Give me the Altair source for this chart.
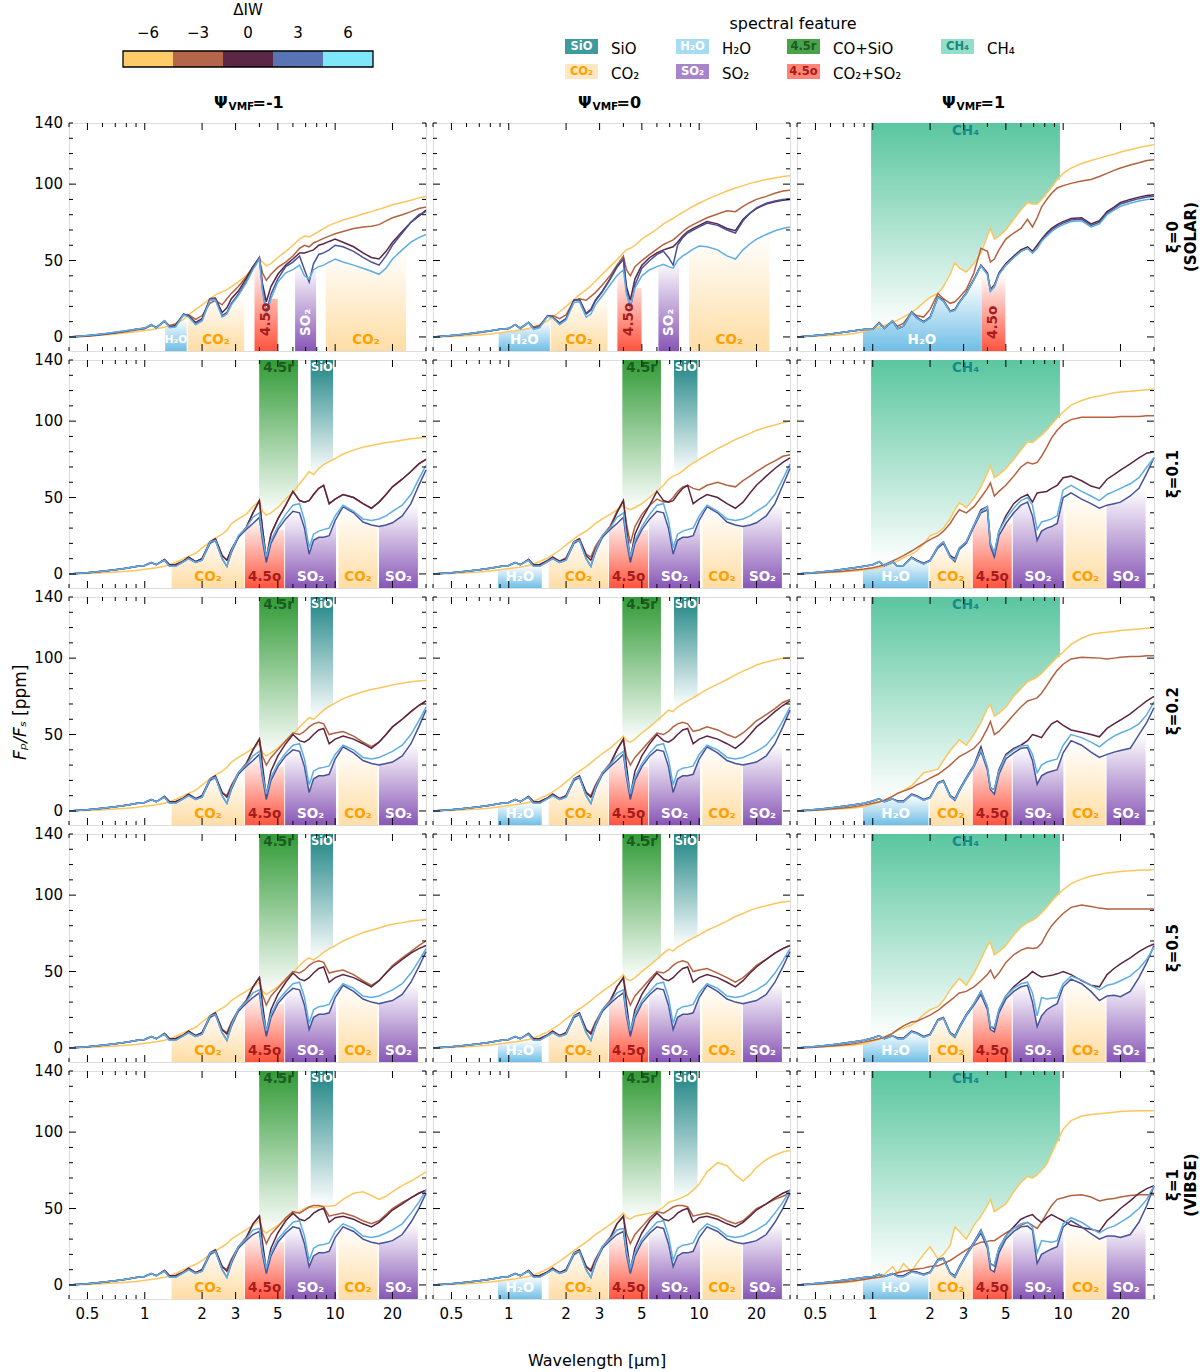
import altair as alt
import pandas as pd

FONT = "DejaVu Sans"
W, H = 357, 228
YMIN, YMAX = -9.2, 140.0
XMIN, XMAX = 0.4, 30.0

# wavelength grid shared by every spectrum (micron)
WL = [0.40, 0.50, 0.60, 0.70, 0.80, 0.90, 1.00, 1.08, 1.15, 1.27,
      1.35, 1.45, 1.60, 1.70, 1.85, 2.00, 2.20, 2.35, 2.55, 2.70,
      2.85, 3.10, 3.40, 3.70, 4.00, 4.15, 4.35, 4.60, 5.00, 5.50,
      6.00, 6.50, 6.90, 7.30, 7.70, 8.20, 8.70, 9.30, 10.0, 11.0,
      12.5, 14.0, 15.5, 17.0, 18.5, 20.0, 22.5, 25.0, 27.5, 30.0]

DIW_LEVELS = [-6, -3, 0, 3, 6]
LINE_COLORS = ["#FCC65C", "#B3623F", "#5B2542", "#47529B", "#5EADE3"]
BAR_COLORS = ["#FDCB68", "#B5664A", "#5B2745", "#5874B4", "#80E6FA"]

PSI_VALUES = ["-1", "0", "1"]
XI_LABELS = [["ξ=0", "(SOLAR)"], ["ξ=0.1"], ["ξ=0.2"], ["ξ=0.5"], ["ξ=1", "(VIBSE)"]]

X_LABELS = [0.5, 1, 2, 3, 5, 10, 20]
X_MINOR = [0.4, 0.6, 0.7, 0.8, 0.9, 4, 6, 7, 8, 9, 30]
Y_LABELS = [0, 50, 100, 140]
Y_MAJOR = [0, 50, 100]
Y_MINOR = [10, 20, 30, 40, 60, 70, 80, 90, 110, 120, 130, 140]

# ---------------- spectra, Fp/Fs in ppm on WL ----------------
# xi = 0 (SOLAR)
R1C1_M6 = [0, 0.4, 1.2, 2.0, 2.7, 3.4, 4.2, 4.7, 5.3, 6.3,
           7.2, 8.5, 11.5, 14.5, 18, 21, 25, 27.5, 29.5, 31,
           33, 36, 40, 45, 51.5, 49, 46.5, 48, 52, 56,
           60, 64, 66, 65.5, 67, 69, 71, 73, 74.5, 76.5,
           78.5, 80.5, 82, 83.5, 85, 86.5, 88, 89.5, 91, 92]
R1C1_M3 = [0, 0.5, 1.5, 2.5, 3.5, 4.5, 5.5, 7.5, 6.5, 10,
           7.5, 8.5, 14, 14.5, 11.5, 14, 22, 24, 21, 25,
           28.5, 33, 39, 46, 50.5, 42, 37, 41, 45.5, 49,
           53, 58, 60, 59, 61.5, 63, 64.5, 66, 67.5, 69,
           71, 72, 72.5, 73.5, 76, 78, 80, 82, 84, 85]
R1C1_Z0 = [0, 0.8, 1.8, 2.8, 3.8, 5, 5.5, 8, 6, 10.5,
           6.5, 7.5, 15, 14, 9.5, 12, 25, 25.5, 16, 19,
           25, 30, 38, 46, 52, 35, 23, 33, 41, 47,
           51, 55, 55, 56, 57, 60, 61, 62.5, 64, 62,
           59, 55, 52, 51, 56, 62, 69, 75, 79, 83]
R1C1_P3 = [0, 1, 2, 3, 4, 5, 5.8, 8, 6, 10.5,
           6.5, 7, 15, 13.5, 8.5, 11, 25, 25, 14, 16,
           22, 28, 36, 45, 52, 32, 16, 28, 38, 46,
           49, 53, 44, 36, 48, 54, 55, 57, 60, 59,
           56, 52, 49, 47, 53, 60, 68, 75, 80, 82]
R1C1_P6 = [0, 1, 2, 3, 4, 5, 5.8, 8, 6, 10.5,
           6, 6.5, 14.5, 13, 8, 10.5, 24, 24, 13, 15,
           21, 27, 35, 44, 51, 30, 15, 25, 36, 42,
           44, 47, 40, 38, 44, 46, 47, 49, 51, 49,
           47, 45, 43, 41, 45, 51, 57, 62, 65, 67]

R1C2_M6 = [0, 0.3, 0.8, 1.3, 2, 2.8, 3.5, 4, 4.5, 5.5,
           6.5, 8, 10.5, 13, 16.5, 20, 24.5, 27.5, 31, 33.5,
           36.5, 41, 46, 50.5, 55, 57, 58, 60, 64, 67.5,
           70.5, 74, 76, 77.5, 79.5, 81.5, 83.5, 85.5, 87.5, 90,
           93, 95.5, 97.5, 99, 100.5, 101.5, 103, 104, 105, 105.5]
R1C2_M3 = [0, 0.8, 1.8, 2.8, 3.8, 5, 5.5, 8, 6, 9.5,
           6.5, 7.5, 13.5, 14, 12, 14.5, 24, 25, 24, 26.5,
           29, 34, 40, 47, 53, 44, 40, 46, 50, 54,
           57.5, 60.5, 62, 63.5, 66, 69, 71.5, 73.5, 75.5, 78,
           80.5, 82.5, 82, 85.5, 88, 90, 92, 94, 95.5, 96]
R1C2_Z0 = [0, 1, 2, 3, 4, 5, 5.5, 8, 5.5, 9.5,
           5.5, 6.5, 14, 13, 9, 12, 24, 24.5, 15.5, 18,
           24, 30, 38, 46, 51, 33, 24, 38, 47, 52,
           55, 57, 58, 59, 62, 66, 69, 71, 73, 75.5,
           74, 71, 69.5, 77, 81, 84, 87, 88.5, 89.5, 90]
R1C2_P3 = [0, 1, 2, 3, 4, 5, 5.5, 8, 5.5, 9.5,
           5.5, 6.5, 14, 13, 9, 12, 24, 24.5, 15, 17.5,
           23.5, 29.5, 37.5, 45.5, 51, 30, 19, 34, 45, 50,
           54, 56, 52, 47, 60, 65, 68, 70, 72, 74.5,
           73, 70, 68, 76, 81, 84.5, 87.5, 89, 90, 90.5]
R1C2_P6 = [0, 1, 2, 3, 4, 5, 5.5, 8, 5.5, 9.5,
           5, 6, 13.5, 12.5, 8, 11, 22.5, 23, 13, 15,
           21, 27, 34, 40, 44, 28, 20, 32, 40, 44,
           46, 47.5, 46, 45, 50, 53, 55, 57.5, 59.5, 59,
           57, 53, 51, 57, 61, 64, 67, 69.5, 71, 72]

R1C3_M6 = [0, 0.5, 1, 1.5, 2.2, 3.5, 5, 6.5, 7.5, 9.5,
           11, 13, 16, 18.5, 22.5, 26, 28.5, 33, 41, 48.5,
           45, 42.5, 48, 55, 66, 71, 64, 66, 70, 77,
           83, 88, 87, 87, 90, 94, 98, 103, 107, 110.5,
           113.5, 115.5, 117, 118.5, 119.5, 121, 122.5, 124, 125, 126]
R1C3_M3 = [0, 1, 2, 3, 4, 5, 5, 9.5, 6, 10,
           7, 9, 16, 14, 13, 18, 28.5, 25, 22, 23,
           26, 31, 42, 58, 56, 49, 51, 57, 64, 68,
           71, 77, 72, 78, 85, 90, 94, 97.5, 99, 100.5,
           102, 103, 105, 107, 109, 110.5, 112.5, 114, 115.5, 116]
R1C3_Z0 = [0, 1, 2, 3, 4, 4.8, 5, 9, 5.5, 10.5,
           5.5, 7, 16.5, 13, 10, 13, 26.5, 24, 17, 18,
           23, 29, 38, 47, 42, 31, 34, 42, 48, 53,
           57, 59, 56, 60, 64, 68, 71, 73.5, 75.5, 77.5,
           78, 74, 76, 82, 85, 88, 90, 91.5, 92.5, 93]
R1C3_P3 = [0, 1, 2, 3, 4, 4.8, 5, 9, 5.5, 10.5,
           5.5, 7, 16, 12.5, 9.5, 12.5, 26, 23.5, 16.5, 17.5,
           22.5, 28.5, 37.5, 46.5, 41, 30, 33, 41, 47, 52,
           56, 58, 55, 58, 63, 67, 70, 72.5, 74.5, 76.5,
           77, 73, 75, 81, 84, 87, 89, 90.5, 91.5, 92]
R1C3_P6 = [0, 1, 2, 3, 4, 4.8, 5, 9, 5.5, 10.5,
           5.5, 7, 16, 12.5, 9.5, 12.5, 26, 23.5, 16.5, 17.5,
           22.5, 28.5, 37.5, 46.5, 41, 30, 33, 41, 47, 52,
           56, 58, 55, 58, 62.5, 66, 69, 71.5, 73.5, 75.5,
           76, 72, 74, 80, 83, 85.5, 87.5, 89, 90, 90.5]

# xi = 0.1
R2C1_M6 = [0, 0.3, 0.7, 1.2, 1.7, 2.3, 3, 3.5, 4, 5,
           6, 7.5, 10, 11.5, 13.5, 17, 21, 23.5, 26, 28.5,
           33, 36, 39, 44, 48, 41, 38.5, 40, 43.5, 49,
           53.5, 59, 63, 67, 65, 69, 71.5, 73.5, 75.5, 78.5,
           81, 83, 84, 85, 86, 86.5, 87.5, 88.5, 89, 89.5]
R2C1_M3 = [0, 0.8, 1.8, 2.8, 3.8, 4.8, 5.5, 7.5, 6, 9.5,
           6, 6, 8.5, 11, 8, 10, 21, 23, 12, 9,
           16, 24, 30, 40, 48, 30, 10, 26, 36, 45,
           54, 48, 47, 48, 52, 56, 58, 46, 49, 52,
           50, 46, 43, 47, 52, 57, 62, 67, 72, 75]
R2C1_Z0 = [0, 0.8, 1.8, 2.8, 3.8, 4.8, 5.5, 7.5, 6, 9.5,
           6, 6, 8.5, 11, 8, 10, 21, 23, 12, 9,
           16, 24, 30, 40, 48, 30, 10, 26, 36, 45,
           54, 48, 47, 48, 52, 56, 58, 46, 49, 52,
           50, 46, 43, 47, 52, 57, 62, 67, 72, 75]
R2C1_P3 = [0, 0.8, 1.8, 2.8, 3.8, 4.8, 5.5, 7.5, 6, 9,
           5, 5, 8, 10, 7.5, 9, 20, 22, 10, 5,
           14, 24, 29, 33, 37, 22, 7.5, 20, 29, 36,
           41, 40, 30, 13, 22, 24, 24, 25, 35, 44,
           40, 34, 32, 31, 32, 33.5, 38, 46, 58, 68]
R2C1_P6 = [0, 0.8, 1.8, 2.8, 3.8, 4.8, 5.5, 7.5, 6, 9,
           5, 5, 8, 10, 7.5, 9, 21, 22, 10, 5,
           15, 25, 30, 37, 40, 25, 11, 22, 31, 39,
           45, 46, 35, 17, 26, 28, 29, 30, 38, 45,
           41, 36, 35, 36, 38, 41, 45, 52, 62, 71]

R2C2_M6 = [0, 0.3, 0.8, 1.3, 2, 2.8, 3.5, 4, 4.5, 5.5,
           6.5, 8, 10.5, 12.5, 15.5, 19, 23, 25.5, 28, 30.5,
           33, 36, 39, 42, 45, 43, 42, 43.5, 46, 50,
           54, 58, 62, 64, 65, 67.5, 70, 72.5, 75, 78,
           82, 85, 88, 90, 92, 94, 96, 97.5, 99, 100]
R2C2_M3 = [0, 0.8, 1.8, 2.8, 3.8, 4.8, 5.5, 7.5, 6, 9.5,
           6, 6, 9, 11, 8.5, 10.5, 21, 23, 13, 11,
           18, 25, 31, 41, 48, 33, 20, 31, 39, 45,
           49, 47, 47, 50, 54, 57, 58, 56, 55, 58,
           60, 58, 57, 61, 64, 67, 71, 74, 77, 78]
R2C2_Z0 = [0, 0.8, 1.8, 2.8, 3.8, 4.8, 5.5, 7.5, 6, 9.5,
           6, 6, 8.5, 11, 8, 10, 21, 23, 12, 9,
           16, 24, 30, 40, 48, 30, 10, 26, 36, 45,
           54, 48, 47, 48, 52, 56, 58, 46, 49, 52,
           50, 46, 43, 47, 53, 58, 64, 69, 73, 76]
R2C2_P3 = [0, 0.8, 1.8, 2.8, 3.8, 4.8, 5.5, 7.5, 6, 9,
           5, 5, 8, 10, 7.5, 9, 20, 22, 10, 5,
           14, 24, 29, 33, 37, 22, 7.5, 20, 29, 36,
           41, 40, 30, 13, 22, 24, 24, 25, 35, 44,
           40, 34, 32, 31, 32, 33.5, 38, 46, 58, 69]
R2C2_P6 = [0, 0.8, 1.8, 2.8, 3.8, 4.8, 5.5, 7.5, 6, 9,
           5, 5, 8, 10, 7.5, 9, 21, 22, 10, 5,
           15, 25, 30, 37, 40, 25, 11, 22, 31, 39,
           45, 46, 35, 17, 26, 28, 29, 30, 38, 45,
           41, 36, 35, 36, 38, 41, 45, 52, 62, 72]

R2C3_M6 = [0, 0.5, 1, 1.5, 2, 2.5, 3.5, 4, 5, 7,
           8.5, 10.5, 13, 15, 19.5, 25, 27, 30, 36, 42,
           46.5, 43.5, 49.5, 57, 66, 70.5, 63, 65, 69, 75,
           81, 86.5, 86, 88.5, 91, 94, 98, 102, 106, 110.5,
           113.5, 115.5, 116.5, 117.5, 118.5, 119, 119.5, 120, 120.5, 121]
R2C3_M3 = [0, 0.6, 1.2, 1.8, 2.5, 3.2, 4, 5, 6, 8.5,
           10, 12, 15, 17, 20, 22.5, 25, 28, 33, 38,
           42, 40, 44, 50, 56, 59.5, 51, 54, 58, 64,
           70, 73, 72, 73, 77, 83, 89, 94, 98, 101,
           102.5, 102.5, 102.5, 102.5, 102.5, 103, 103, 103, 103.5, 103.5]
R2C3_Z0 = [0, 1, 2, 3, 4, 5, 6, 8, 5.5, 8,
           5, 5.5, 11, 9, 7, 9, 18, 21, 12, 10,
           17, 21, 32, 42, 44, 20, 13, 28, 38, 46,
           50, 52, 47, 53, 53.5, 54, 56, 58, 63, 64,
           61, 57.5, 56, 62, 65, 68, 72, 76, 79, 80]
R2C3_P3 = [0, 1, 2, 3, 4, 5, 6, 8, 5.5, 8,
           5, 5.5, 10.5, 8.5, 6.5, 8.5, 17, 20, 11, 8,
           16, 20, 31, 40, 42, 18, 11, 25, 33, 40,
           45, 47, 38, 22, 28, 30, 31, 33, 50, 53,
           49, 46, 43, 45, 46, 47, 51, 56, 66, 76]
R2C3_P6 = [0, 1, 2, 3, 4, 5, 6, 8, 5.5, 8,
           5, 5.5, 10.5, 8.5, 6.5, 8.5, 18, 21, 11, 9,
           17, 21, 32, 41, 44, 20, 14, 28, 36, 43,
           48, 50, 45, 29, 34, 35, 36, 38, 55, 58,
           54, 51, 48, 52, 54, 56, 59, 63, 70, 76]

# xi = 0.2
R3C1_M6 = [0, 0.3, 0.7, 1.2, 1.7, 2.3, 3, 3.5, 4, 5,
           6, 7.5, 10, 11.5, 13.5, 17, 21, 23.5, 26, 28.5,
           32, 35, 38, 41, 44, 38, 36, 38, 41, 46,
           50, 55, 58, 61, 60, 63, 66, 68.5, 70.5, 73.5,
           76, 78, 79.5, 80.5, 81.5, 82.5, 83.5, 84.5, 85, 85.5]
R3C1_M3 = [0, 0.8, 1.8, 2.8, 3.8, 4.8, 5.5, 7.5, 6, 9.5,
           6, 6, 8.5, 11, 8, 10, 20, 22, 12, 10,
           17, 25, 31, 40, 47, 36, 30, 35, 40, 46,
           51, 50, 52, 55, 57, 58, 57, 50, 51, 52,
           49, 45, 42, 45, 50, 55, 60, 65, 69, 72]
R3C1_Z0 = [0, 0.8, 1.8, 2.8, 3.8, 4.8, 5.5, 7.5, 6, 9.5,
           6, 6, 8.5, 11, 8, 10, 21, 23, 12, 9,
           16, 24, 30, 40, 47, 30, 10, 26, 36, 44,
           50, 46, 45, 47, 50, 53, 54, 44, 47, 49,
           47, 44, 41, 45, 50, 55, 60, 65, 69, 72]
R3C1_P3 = [0, 0.8, 1.8, 2.8, 3.8, 4.8, 5.5, 7.5, 6, 9,
           5, 5, 8, 10, 7.5, 9, 20, 22, 10, 5,
           14, 24, 29, 33, 37, 22, 7.5, 20, 29, 36,
           40, 39, 29, 12, 21, 23, 23, 24, 34, 42,
           38, 33, 31, 30, 31, 32, 36, 44, 55, 66]
R3C1_P6 = [0, 0.8, 1.8, 2.8, 3.8, 4.8, 5.5, 7.5, 6, 9,
           5, 5, 8, 10, 7.5, 9, 21, 22, 10, 5,
           15, 25, 30, 36, 39, 24, 11, 22, 31, 38,
           43, 44, 34, 17, 26, 28, 28.5, 29.5, 37, 43,
           40, 35, 34, 35, 37, 39, 43, 50, 59, 68]

R3C2_M6 = [0, 0.3, 0.8, 1.3, 2, 2.8, 3.5, 4, 4.5, 5.5,
           6.5, 8, 10.5, 12.5, 15.5, 19, 23.5, 26, 29, 31.5,
           34, 37.5, 41, 45, 49, 46, 45, 47, 51, 55,
           59, 63, 66, 65, 68, 70, 72, 74, 76.5, 79.5,
           83, 86, 89, 91.5, 93.5, 95.5, 97.5, 99, 100, 100.5]
R3C2_M3 = [0, 0.8, 1.8, 2.8, 3.8, 4.8, 5.5, 7.5, 6, 9.5,
           6, 6, 8.5, 11, 8, 10, 20, 22, 12, 10,
           17, 25, 31, 40, 47, 36, 30, 35, 40, 46,
           51, 50, 52, 55, 57, 58, 57, 52, 53, 55,
           53, 50, 48, 51, 55, 59, 63, 67, 71, 73]
R3C2_Z0 = [0, 0.8, 1.8, 2.8, 3.8, 4.8, 5.5, 7.5, 6, 9.5,
           6, 6, 8.5, 11, 8, 10, 21, 23, 12, 9,
           16, 24, 30, 40, 47, 30, 10, 26, 36, 44,
           50, 46, 45, 47, 50, 53, 54, 44, 47, 49,
           47, 44, 41, 45, 50, 55, 60, 65, 69, 72]
R3C2_P3 = [0, 0.8, 1.8, 2.8, 3.8, 4.8, 5.5, 7.5, 6, 9,
           5, 5, 8, 10, 7.5, 9, 20, 22, 10, 5,
           14, 24, 29, 33, 37, 22, 7.5, 20, 29, 36,
           40, 39, 29, 12, 21, 23, 23, 24, 34, 42,
           38, 33, 31, 30, 31, 32, 36, 44, 55, 66]
R3C2_P6 = [0, 0.8, 1.8, 2.8, 3.8, 4.8, 5.5, 7.5, 6, 9,
           5, 5, 8, 10, 7.5, 9, 21, 22, 10, 5,
           15, 25, 30, 36, 39, 24, 11, 22, 31, 38,
           43, 44, 34, 17, 26, 28, 28.5, 29.5, 37, 43,
           40, 35, 34, 35, 37, 39, 43, 50, 59, 68]

R3C3_M6 = [0, 0.5, 1, 1.5, 2, 2.8, 4.5, 5.5, 7, 9.5,
           11.5, 13.5, 16.5, 20, 25, 26, 27.5, 33, 39.5, 43,
           46.5, 43, 50, 58, 67, 69.5, 62, 64, 68, 75,
           80, 84.5, 86, 87.5, 90, 93.5, 97, 100.5, 104, 109,
           113, 115.5, 116.5, 117, 117.5, 118, 118.5, 119, 119.5, 120]
R3C3_M3 = [0, 0.5, 1.2, 2, 2.8, 3.8, 5, 6, 7, 9.5,
           11.5, 13, 15, 17, 19, 21.5, 24, 26.5, 30, 33,
           35.5, 38, 41, 46, 54, 58.5, 50, 52, 57, 63,
           68, 72, 73, 74, 77, 82, 87, 92, 96, 99.5,
           100.5, 100.3, 100, 99.5, 100, 100.5, 101, 101, 101.5, 101.5]
R3C3_Z0 = [0, 1, 2, 3, 4, 5, 6.5, 8, 6, 8,
           6.5, 6.5, 11, 10, 7.5, 9, 18.5, 20, 10, 8,
           14, 22, 30, 42, 28, 15, 14, 27, 37, 41,
           43, 46, 50, 49, 48, 53, 57, 59, 56, 53,
           51.5, 50, 48.5, 54, 57, 59.5, 63.5, 68, 72, 75]
R3C3_P3 = [0, 1, 2, 3, 4, 5, 6.5, 8, 6, 8,
           6, 6, 10.5, 9.5, 7, 8.5, 18, 19.5, 9.5, 7,
           13, 21, 29, 39, 27, 14, 11, 24, 34, 38,
           41, 41.5, 33, 17.5, 23, 25, 26, 27, 38, 46,
           43, 38.5, 35, 37, 38.5, 39.5, 41, 50, 58, 67.5]
R3C3_P6 = [0, 1, 2, 3, 4, 5, 6.5, 8, 6, 8,
           6, 6, 10.5, 9.5, 7, 8.5, 18, 19.5, 9.5, 7.5,
           13.5, 21.5, 29.5, 40, 29, 15, 14, 26, 36, 40,
           42.5, 43, 37, 25, 30, 32, 33, 34, 43, 50,
           48, 45, 42, 46, 49, 51, 53.5, 57, 63, 71.5]

# xi = 0.5
R4C1_M6 = [0, 0.3, 0.7, 1.2, 1.7, 2.3, 3, 3.5, 4, 5,
           6, 7.5, 10, 11.5, 13.5, 17, 21, 23.5, 26, 28,
           31, 34, 37, 40, 43, 37, 35, 37, 40, 45,
           49, 54, 57, 59, 57.5, 60, 62.5, 65, 67, 70,
           73, 75.5, 77, 78.5, 80, 81, 82, 83, 83.5, 84]
R4C1_M3 = [0, 0.8, 1.8, 2.8, 3.8, 4.8, 5.5, 7.5, 6, 9.5,
           6, 6, 8.5, 11, 8, 10, 20, 22, 12, 10,
           17, 25, 31, 40, 46, 35, 28, 34, 39, 45,
           50, 49, 51, 54, 56, 57, 56, 49, 50, 51,
           48, 44, 41, 44, 49, 54, 59, 63, 67, 70]
R4C1_Z0 = [0, 0.8, 1.8, 2.8, 3.8, 4.8, 5.5, 7.5, 6, 9.5,
           6, 6, 8.5, 11, 8, 10, 21, 23, 12, 9,
           16, 24, 30, 40, 46, 29, 10, 25, 35, 43,
           49, 45, 44, 46, 49, 52, 53, 43, 46, 48,
           46, 43, 40, 44, 49, 53, 58, 62, 65, 67]
R4C1_P3 = [0, 0.8, 1.8, 2.8, 3.8, 4.8, 5.5, 7.5, 6, 9,
           5, 5, 8, 10, 7.5, 9, 20, 22, 10, 5,
           14, 24, 29, 33, 36, 21, 7.5, 20, 29, 35,
           39, 38, 28, 12, 20, 22, 22, 23, 33, 41,
           37, 32, 30, 29, 30, 31, 35, 43, 53, 63]
R4C1_P6 = [0, 0.8, 1.8, 2.8, 3.8, 4.8, 5.5, 7.5, 6, 9,
           5, 5, 8, 10, 7.5, 9, 21, 22, 10, 5,
           15, 25, 30, 36, 38, 23, 11, 22, 31, 37,
           42, 43, 33, 16, 25, 27, 27.5, 28.5, 36, 42,
           39, 34, 33, 34, 36, 38, 42, 49, 57, 65]

R4C2_M6 = [0, 0.3, 0.8, 1.3, 2, 2.8, 3.5, 4, 4.5, 5.5,
           6.5, 8, 10.5, 12.5, 15.5, 19, 23, 25.5, 28.5, 31,
           33.5, 37, 40.5, 44, 48, 45, 44, 46, 50, 54,
           58, 62, 64.5, 63.5, 66, 68, 70, 72, 74, 77,
           80, 83, 86, 88, 90, 91.5, 93, 94.5, 95.5, 96]
R4C2_M3 = [0, 0.8, 1.8, 2.8, 3.8, 4.8, 5.5, 7.5, 6, 9.5,
           6, 6, 8.5, 11, 8, 10, 20, 22, 12, 10,
           17, 25, 31, 40, 46, 35, 28, 34, 39, 45,
           50, 49, 51, 54, 56, 57, 56, 50, 51, 52,
           49, 46, 43, 46, 50, 54, 58, 62, 65, 67]
R4C2_Z0 = [0, 0.8, 1.8, 2.8, 3.8, 4.8, 5.5, 7.5, 6, 9.5,
           6, 6, 8.5, 11, 8, 10, 21, 23, 12, 9,
           16, 24, 30, 40, 46, 29, 10, 25, 35, 43,
           49, 45, 44, 46, 49, 52, 53, 43, 46, 48,
           46, 43, 40, 44, 49, 53, 58, 62, 65, 67]
R4C2_P3 = [0, 0.8, 1.8, 2.8, 3.8, 4.8, 5.5, 7.5, 6, 9,
           5, 5, 8, 10, 7.5, 9, 20, 22, 10, 5,
           14, 24, 29, 33, 36, 21, 7.5, 20, 29, 35,
           39, 38, 28, 12, 20, 22, 22, 23, 33, 41,
           37, 32, 30, 29, 30, 31, 35, 43, 53, 63]
R4C2_P6 = [0, 0.8, 1.8, 2.8, 3.8, 4.8, 5.5, 7.5, 6, 9,
           5, 5, 8, 10, 7.5, 9, 21, 22, 10, 5,
           15, 25, 30, 36, 38, 23, 11, 22, 31, 37,
           42, 43, 33, 16, 25, 27, 27.5, 28.5, 36, 42,
           39, 34, 33, 34, 36, 38, 42, 49, 57, 65]

R4C3_M6 = [0, 0.5, 1, 1.5, 2, 2.8, 4.5, 5.5, 7, 9.5,
           11.5, 13, 15, 17.5, 22, 25, 27, 31, 38, 42,
           45.5, 41, 49, 58, 67, 69, 61, 63, 67, 74,
           79, 82, 83.5, 85.5, 88.5, 92, 96, 100, 103.5, 107.5,
           110.5, 112.5, 113.5, 114.5, 115, 115.5, 116, 116.3, 116.5, 116.7]
R4C3_M3 = [0, 0.5, 1.2, 2, 2.8, 3.8, 5, 6, 7, 9.5,
           12, 14.5, 17, 17.5, 19.5, 21.5, 24.5, 27.5, 31, 33.5,
           36, 37, 40, 44, 48, 51, 45.5, 49, 56, 61,
           64, 65.5, 65, 65.5, 68.5, 75, 80, 84, 88, 92,
           93.5, 92.5, 91.5, 91, 91, 91, 91, 91, 91, 91]
R4C3_Z0 = [0, 1, 2, 3, 4, 5, 6.5, 8, 6, 8,
           6.5, 6.5, 11, 10, 7.5, 9, 18.5, 20, 10, 8,
           14, 22, 29, 37, 27, 14, 12.5, 25, 34, 40,
           44, 47, 50, 48, 46.5, 47, 47.5, 48.5, 50, 48,
           44, 41, 40, 48, 52, 55, 59, 63, 66, 68]
R4C3_P3 = [0, 1, 2, 3, 4, 5, 6.5, 8, 6, 8,
           6, 6, 10.5, 9.5, 7, 8.5, 18, 19.5, 9.5, 7,
           13, 21, 28, 35, 25, 12, 10.5, 23, 32, 37,
           40, 41, 30, 14, 21, 25, 27, 29, 40, 45,
           42, 37, 31, 34, 34.5, 33.5, 37, 46, 56, 67]
R4C3_P6 = [0, 1, 2, 3, 4, 5, 6.5, 8, 6, 8,
           6, 6, 10.5, 9.5, 7, 8.5, 18, 19.5, 9.5, 7.5,
           13.5, 21.5, 29, 37, 27, 14, 13.5, 25, 34, 39,
           42, 43, 36, 21, 33, 32, 32.5, 33, 42, 47,
           44.5, 41, 38, 41, 42, 44, 47, 52, 58, 66]

# xi = 1 (VIBSE)
R5C1_M6 = [0, 0.3, 0.7, 1.2, 1.7, 2.3, 3, 3.5, 4, 5,
           6, 7.5, 10, 11.5, 13.5, 16, 20, 22.5, 25, 27,
           30, 33, 36, 39, 42, 36, 34, 36, 39, 43,
           46, 48, 50, 51, 50.5, 51, 51.5, 51.5, 52, 56,
           60, 61, 58.5, 56, 58, 61, 65, 68, 71, 74]
R5C1_M3 = [0, 0.8, 1.8, 2.8, 3.8, 4.8, 5.5, 7.5, 6, 9.5,
           6, 6, 8.5, 11, 8, 10, 20, 22, 12, 10,
           17, 25, 31, 40, 45, 34, 27, 33, 38, 44,
           48, 47, 49, 51, 52, 52, 51, 45, 46, 47,
           45, 42, 40, 42, 46, 50, 54, 57, 60, 62]
R5C1_Z0 = [0, 0.8, 1.8, 2.8, 3.8, 4.8, 5.5, 7.5, 6, 9.5,
           6, 6, 8.5, 11, 8, 10, 21, 23, 12, 9,
           16, 24, 30, 40, 45, 28, 10, 24, 34, 42,
           47, 43, 42, 44, 47, 49, 50, 41, 44, 45,
           43, 40, 38, 41, 45, 49, 53, 57, 60, 62]
R5C1_P3 = [0, 0.8, 1.8, 2.8, 3.8, 4.8, 5.5, 7.5, 6, 9,
           5, 5, 8, 10, 7.5, 9, 20, 22, 10, 5,
           14, 24, 29, 33, 35, 20, 7.5, 19, 28, 34,
           38, 37, 27, 12, 19, 21, 21, 22, 31, 38,
           35, 30, 28, 27, 28, 29, 33, 41, 50, 60]
R5C1_P6 = [0, 0.8, 1.8, 2.8, 3.8, 4.8, 5.5, 7.5, 6, 9,
           5, 5, 8, 10, 7.5, 9, 21, 22, 10, 5,
           15, 25, 30, 36, 37, 22, 11, 21, 30, 36,
           41, 42, 32, 16, 24, 26, 26.5, 27.5, 35, 40,
           37, 32, 31, 32, 34, 36, 40, 47, 54, 62]

R5C2_M6 = [0, 0.3, 0.8, 1.3, 2, 2.8, 3.5, 4, 4.5, 5.5,
           6.5, 8, 10.5, 12.5, 15.5, 18.5, 22.5, 25, 28, 30.5,
           33, 36, 39.5, 43, 47, 44, 43, 45, 46, 47,
           48, 51, 54, 55, 56, 57.5, 59, 62, 66, 74,
           80, 78, 72, 68, 72, 77, 82, 85, 87, 88]
R5C2_M3 = [0, 0.8, 1.8, 2.8, 3.8, 4.8, 5.5, 7.5, 6, 9.5,
           6, 6, 8.5, 11, 8, 10, 20, 22, 12, 10,
           17, 25, 31, 40, 45, 34, 27, 33, 38, 44,
           48, 47, 49, 51, 52, 52, 51, 45, 46, 47,
           45, 42, 40, 42, 46, 50, 53, 56, 58, 60]
R5C2_Z0 = [0, 0.8, 1.8, 2.8, 3.8, 4.8, 5.5, 7.5, 6, 9.5,
           6, 6, 8.5, 11, 8, 10, 21, 23, 12, 9,
           16, 24, 30, 40, 45, 28, 10, 24, 34, 42,
           47, 43, 42, 44, 47, 49, 50, 41, 44, 45,
           43, 40, 38, 41, 45, 49, 53, 57, 60, 62]
R5C2_P3 = [0, 0.8, 1.8, 2.8, 3.8, 4.8, 5.5, 7.5, 6, 9,
           5, 5, 8, 10, 7.5, 9, 20, 22, 10, 5,
           14, 24, 29, 33, 35, 20, 7.5, 19, 28, 34,
           38, 37, 27, 12, 19, 21, 21, 22, 31, 38,
           35, 30, 28, 27, 28, 29, 33, 41, 50, 60]
R5C2_P6 = [0, 0.8, 1.8, 2.8, 3.8, 4.8, 5.5, 7.5, 6, 9,
           5, 5, 8, 10, 7.5, 9, 21, 22, 10, 5,
           15, 25, 30, 36, 37, 22, 11, 21, 30, 36,
           41, 42, 32, 16, 24, 26, 26.5, 27.5, 35, 40,
           37, 32, 31, 32, 34, 36, 40, 47, 54, 62]

R5C3_M6 = [0, 0.5, 1, 1.5, 2.2, 3.5, 5, 6, 7, 12,
           7.5, 14, 8.5, 14, 20, 25, 17, 20, 26, 38,
           35, 30, 39, 45, 52, 56, 48, 50, 53, 61,
           67, 71, 70, 72, 75, 79, 86, 94, 102, 107.5,
           110.5, 111.5, 112, 112.5, 113, 113.5, 113.8, 114, 114, 114]
R5C3_M3 = [0, 0.5, 1.2, 2, 2.8, 3.5, 4.5, 5, 5.5, 7,
           8, 9, 10, 10.5, 11, 12, 12.5, 14, 16, 18,
           20, 23, 26, 28, 28.5, 29, 29, 31, 34, 37,
           39, 41, 39, 37, 41, 47, 52, 56, 57, 58.5,
           59, 57.5, 55, 56, 56.5, 57.5, 58.5, 59, 59, 59]
R5C3_Z0 = [0, 1, 2, 3, 4, 4.8, 5.5, 7, 5.5, 7.5,
           6, 6, 9, 8.5, 7, 8.5, 16.5, 17.5, 8, 6,
           12, 20, 28, 36, 26, 14, 12.5, 24, 32, 38,
           43, 45, 46, 43, 41, 44, 46, 44, 42, 39,
           37.5, 36.5, 35, 42, 46, 50, 55, 60, 63, 65]
R5C3_P3 = [0, 1, 2, 3, 4, 4.8, 5.5, 7, 5.5, 7.5,
           5.5, 5.5, 8.5, 8, 6.5, 8, 16, 17, 7.5, 5,
           11, 19, 27, 34, 24, 10, 8.5, 21, 30, 35,
           38, 38.5, 36, 14, 20, 22, 23.5, 25, 38, 42,
           38, 33.5, 30, 32, 32, 31, 33, 41, 52, 64.8]
R5C3_P6 = [0, 1, 2, 3, 4, 4.8, 5.5, 7, 5.5, 7.5,
           5.5, 5.5, 8.5, 8, 6.5, 8, 16, 17, 7.5, 5.5,
           11.5, 19.5, 27.5, 35.5, 26, 13, 13, 24, 32, 37,
           40, 41, 38, 21, 29, 28.5, 28, 29, 40, 44,
           41, 37, 34, 37, 38.5, 41, 45, 50, 56, 64.8]

SPECTRA = [
    [[R1C1_M6, R1C1_M3, R1C1_Z0, R1C1_P3, R1C1_P6],
     [R1C2_M6, R1C2_M3, R1C2_Z0, R1C2_P3, R1C2_P6],
     [R1C3_M6, R1C3_M3, R1C3_Z0, R1C3_P3, R1C3_P6]],
    [[R2C1_M6, R2C1_M3, R2C1_Z0, R2C1_P3, R2C1_P6],
     [R2C2_M6, R2C2_M3, R2C2_Z0, R2C2_P3, R2C2_P6],
     [R2C3_M6, R2C3_M3, R2C3_Z0, R2C3_P3, R2C3_P6]],
    [[R3C1_M6, R3C1_M3, R3C1_Z0, R3C1_P3, R3C1_P6],
     [R3C2_M6, R3C2_M3, R3C2_Z0, R3C2_P3, R3C2_P6],
     [R3C3_M6, R3C3_M3, R3C3_Z0, R3C3_P3, R3C3_P6]],
    [[R4C1_M6, R4C1_M3, R4C1_Z0, R4C1_P3, R4C1_P6],
     [R4C2_M6, R4C2_M3, R4C2_Z0, R4C2_P3, R4C2_P6],
     [R4C3_M6, R4C3_M3, R4C3_Z0, R4C3_P3, R4C3_P6]],
    [[R5C1_M6, R5C1_M3, R5C1_Z0, R5C1_P3, R5C1_P6],
     [R5C2_M6, R5C2_M3, R5C2_Z0, R5C2_P3, R5C2_P6],
     [R5C3_M6, R5C3_M3, R5C3_Z0, R5C3_P3, R5C3_P6]],
]

# ---------------- spectral feature windows (micron) ----------------
BANDS_SOLAR = [
    [("H2O", 1.28, 1.66), ("CO2", 1.68, 3.33), ("4.5o", 3.77, 4.99), ("SO2", 6.16, 7.94), ("CO2", 8.92, 23.6)],
    [("H2O", 0.885, 1.644), ("CO2", 1.66, 3.30), ("4.5o", 3.72, 4.98), ("SO2", 6.11, 7.84), ("CO2", 8.85, 23.4)],
    [("CH4", 0.98, 9.62), ("H2O", 0.888, 3.70), ("4.5o", 3.72, 4.97)],
]
BANDS_MIXED = [
    [("4.5r", 3.99, 6.38), ("SiO", 7.44, 9.75), ("CO2", 1.383, 3.33), ("4.5o", 3.36, 5.40),
     ("SO2", 5.46, 10.1), ("CO2", 10.4, 16.7), ("SO2", 17.0, 27.2)],
    [("4.5r", 3.95, 6.30), ("SiO", 7.38, 9.80), ("H2O", 0.877, 1.49), ("CO2", 1.62, 3.33),
     ("4.5o", 3.36, 5.40), ("SO2", 5.46, 10.1), ("CO2", 10.4, 16.7), ("SO2", 17.0, 27.2)],
    [("CH4", 0.98, 9.62), ("H2O", 0.888, 1.96), ("CO2", 1.99, 3.31), ("4.5o", 3.35, 5.37),
     ("SO2", 5.44, 10.03), ("CO2", 10.3, 16.7), ("SO2", 16.9, 27.1)],
]

FEATURES = {
    "H2O": {"rgb": (112, 190, 230), "up": True, "text": "H₂O", "color": "#FFFFFF", "box": "#A6DCF2", "label": "H₂O"},
    "CO2": {"rgb": (255, 221, 165), "up": True, "text": "CO₂", "color": "#FFA000", "box": "#FFE7C2", "label": "CO₂"},
    "4.5o": {"rgb": (255, 84, 62), "up": True, "text": "4.5o", "color": "#A51C1C", "box": "#FF8475", "label": "CO₂+SO₂"},
    "SO2": {"rgb": (136, 86, 182), "up": True, "text": "SO₂", "color": "#FFFFFF", "box": "#A785CC", "label": "SO₂"},
    "4.5r": {"rgb": (50, 155, 55), "up": False, "text": "4.5r", "color": "#1C5C20", "box": "#4AA24A", "label": "CO+SiO"},
    "SiO": {"rgb": (30, 132, 132), "up": False, "text": "SiO", "color": "#FFFFFF", "box": "#3D9B9B", "label": "SiO"},
    "CH4": {"rgb": (90, 198, 160), "up": False, "text": "CH₄", "color": "#178A8A", "box": "#92DEC6", "label": "CH₄"},
}
LEGEND_ORDER = [("SiO", 0, 0), ("H2O", 1, 0), ("4.5r", 2, 0), ("CH4", 3, 0),
                ("CO2", 0, 1), ("SO2", 1, 1), ("4.5o", 2, 1)]

XS = alt.Scale(type="log", domain=[XMIN, XMAX], nice=False)
YS = alt.Scale(domain=[YMIN, YMAX], nice=False, zero=False)
ONE = pd.DataFrame({"k": [0]})


def fade(rgb, up):
    r, g, b = rgb
    stops = [alt.GradientStop(color=f"rgba({r},{g},{b},1)", offset=0),
             alt.GradientStop(color=f"rgba({r},{g},{b},0)", offset=1)]
    return alt.LinearGradient(gradient="linear", stops=stops, x1=0, x2=0,
                              y1=1 if up else 0, y2=0 if up else 1)


def text_at(px, py, txt, size=15, weight="normal", align="center", angle=0,
            color="black", style="normal", baseline="middle"):
    return alt.Chart(ONE).mark_text(
        font=FONT, fontSize=size, fontWeight=weight, align=align, angle=angle,
        color=color, fontStyle=style, baseline=baseline
    ).encode(x=alt.value(px), y=alt.value(py), text=alt.value(txt))


def header_layers():
    layers = []
    # invisible corner that fixes the page origin
    layers.append(alt.Chart(ONE).mark_rule(strokeOpacity=0).encode(
        x=alt.value(-68), x2=alt.value(-66), y=alt.value(-122)))
    # ΔIW colour bar
    cb = pd.DataFrame({"lvl": DIW_LEVELS, "col": BAR_COLORS})
    cb["x0"] = [54 + 50 * i for i in range(len(cb))]
    cb["x1"] = cb["x0"] + 50
    cb["xc"] = cb["x0"] + 25
    cb["y0"] = -72
    cb["y1"] = -56
    cb["lab"] = [str(v).replace("-", "−") for v in DIW_LEVELS]
    layers.append(alt.Chart(cb).mark_rect().encode(
        x=alt.X("x0:Q", scale=None, axis=None), x2="x1:Q",
        y=alt.Y("y0:Q", scale=None, axis=None), y2="y1:Q",
        color=alt.Color("col:N", scale=None)))
    layers.append(alt.Chart(ONE).mark_rect(fillOpacity=0, stroke="black", strokeWidth=1.3).encode(
        x=alt.value(54), x2=alt.value(304), y=alt.value(-72), y2=alt.value(-56)))
    layers.append(alt.Chart(cb).mark_text(font=FONT, fontSize=15, baseline="middle").encode(
        x=alt.X("xc:Q", scale=None, axis=None), y=alt.value(-90), text="lab:N"))
    layers.append(text_at(179, -113, "ΔIW", size=15))
    # spectral feature legend
    rows = []
    bx = [496, 607, 718, 872]
    by = [-84, -59]
    for key, col, row in LEGEND_ORDER:
        f = FEATURES[key]
        rows.append({"x0": bx[col], "x1": bx[col] + 33, "y0": by[row], "y1": by[row] + 15,
                     "xc": bx[col] + 16.5, "yc": by[row] + 7.5, "xl": bx[col] + 46,
                     "yl": by[row] + 10, "box": f["box"], "tc": f["color"],
                     "bt": f["text"], "lab": f["label"]})
    lg = pd.DataFrame(rows)
    layers.append(alt.Chart(lg).mark_rect().encode(
        x=alt.X("x0:Q", scale=None, axis=None), x2="x1:Q",
        y=alt.Y("y0:Q", scale=None, axis=None), y2="y1:Q",
        color=alt.Color("box:N", scale=None)))
    layers.append(alt.Chart(lg).mark_text(font=FONT, fontSize=11.5, fontWeight="bold", baseline="middle").encode(
        x=alt.X("xc:Q", scale=None, axis=None), y=alt.Y("yc:Q", scale=None, axis=None),
        text="bt:N", color=alt.Color("tc:N", scale=None)))
    layers.append(alt.Chart(lg).mark_text(font=FONT, fontSize=15, align="left", baseline="middle").encode(
        x=alt.X("xl:Q", scale=None, axis=None), y=alt.Y("yl:Q", scale=None, axis=None),
        text="lab:N"))
    layers.append(text_at(724, -99, "spectral feature", size=16))
    return layers


def column_title(psi):
    cx = W / 2
    return [text_at(cx - 20, -20, "Ψ", size=16, weight="bold", align="right"),
            text_at(cx - 19, -16, "VMF", size=10.5, weight="bold", align="left"),
            text_at(cx + 5, -20, "=" + psi, size=16, weight="bold", align="left")]


def panel(r, c):
    series = SPECTRA[r][c]
    bands = BANDS_SOLAR[c] if r == 0 else BANDS_MIXED[c]
    layers = []
    # shaded windows bounded by the envelope of the spectra
    for name, lo, hi in bands:
        f = FEATURES[name]
        pick = min if f["up"] else max
        idx = [i for i, w in enumerate(WL) if lo < w < hi]
        edge = [pick(s[i] for s in series) for i in idx]
        ws = [lo] + [WL[i] for i in idx] + [hi]
        env = [edge[0]] + edge + [edge[-1]]
        lim = [YMIN if f["up"] else YMAX] * len(ws)
        df = pd.DataFrame({"w": ws, "env": env, "lim": lim})
        layers.append(alt.Chart(df).mark_area(color=fade(f["rgb"], f["up"])).encode(
            x=alt.X("w:Q", scale=XS, axis=None),
            y=alt.Y("env:Q", scale=YS, axis=None),
            y2="lim:Q"))
    # spectra
    for k, s in enumerate(series):
        df = pd.DataFrame({"w": WL, "v": s})
        layers.append(alt.Chart(df).mark_line(color=LINE_COLORS[k], strokeWidth=1.5).encode(
            x=alt.X("w:Q", scale=XS, axis=None),
            y=alt.Y("v:Q", scale=YS, axis=None)))
    # window labels
    lab = []
    for name, lo, hi in bands:
        f = FEATURES[name]
        wc = (lo * hi) ** 0.5
        size, ang, yv = 13.5, 0, -2.3
        if not f["up"]:
            yv = 134.5
            size = 11.5 if name == "SiO" else 13.5
        if r == 0 and name in ("4.5o", "SO2"):
            ang, yv = 270, (9.5 if name == "SO2" else 11.5)
            if c == 2:
                yv = 9.5
        if r == 0 and c == 0 and name == "H2O":
            size = 10.5
        lab.append({"w": wc, "v": yv, "t": f["text"], "c": f["color"], "a": ang, "s": size})
    layers.append(alt.Chart(pd.DataFrame(lab)).mark_text(font=FONT, fontWeight="bold", baseline="middle").encode(
        x=alt.X("w:Q", scale=XS, axis=None),
        y=alt.Y("v:Q", scale=YS, axis=None),
        text="t:N",
        color=alt.Color("c:N", scale=None),
        angle=alt.Angle("a:Q", scale=None),
        size=alt.Size("s:Q", scale=None)))
    # inward ticks on all four sides
    tx = []
    for w in X_LABELS:
        tx += [{"w": w, "p0": H, "p1": H - 7}, {"w": w, "p0": 0, "p1": 7}]
    for w in X_MINOR:
        tx += [{"w": w, "p0": H, "p1": H - 4}, {"w": w, "p0": 0, "p1": 4}]
    layers.append(alt.Chart(pd.DataFrame(tx)).mark_rule(color="black", strokeWidth=1).encode(
        x=alt.X("w:Q", scale=XS, axis=None),
        y=alt.Y("p0:Q", scale=None, axis=None), y2="p1:Q"))
    ty = []
    for v in Y_MAJOR:
        ty += [{"v": v, "p0": 0, "p1": 7}, {"v": v, "p0": W, "p1": W - 7}]
    for v in Y_MINOR:
        ty += [{"v": v, "p0": 0, "p1": 4}, {"v": v, "p0": W, "p1": W - 4}]
    layers.append(alt.Chart(pd.DataFrame(ty)).mark_rule(color="black", strokeWidth=1).encode(
        y=alt.Y("v:Q", scale=YS, axis=None),
        x=alt.X("p0:Q", scale=None, axis=None), x2="p1:Q"))
    # tick labels placed through the panel scales
    if c == 0:
        yl = pd.DataFrame({"v": Y_LABELS, "t": [f"{v:g}" for v in Y_LABELS]})
        layers.append(alt.Chart(yl).mark_text(font=FONT, fontSize=15, align="right", baseline="middle").encode(
            y=alt.Y("v:Q", scale=YS, axis=None), x=alt.value(-6), text="t:N"))
    if r == 4:
        xl = pd.DataFrame({"w": X_LABELS, "t": [f"{v:g}" for v in X_LABELS]})
        layers.append(alt.Chart(xl).mark_text(font=FONT, fontSize=15, align="center", baseline="middle").encode(
            x=alt.X("w:Q", scale=XS, axis=None), y=alt.value(H + 15), text="t:N"))
    # titles around the grid
    if r == 0:
        layers += column_title(PSI_VALUES[c])
    if r == 0 and c == 0:
        layers += header_layers()
    if c == 2:
        lines = XI_LABELS[r]
        layers.append(text_at(W + 19, H / 2, lines[0], size=15, weight="bold", angle=270))
        if len(lines) > 1:
            layers.append(text_at(W + 37, H / 2, lines[1], size=15, weight="bold", angle=270))
    if r == 2 and c == 0:
        layers.append(text_at(-48, 124, "Fₚ/Fₛ", size=17, style="italic", align="right", angle=270))
        layers.append(text_at(-48, 119, "[ppm]", size=17, align="left", angle=270))
    if r == 4 and c == 1:
        layers.append(text_at(164, H + 62, "Wavelength [μm]", size=16))
    return alt.layer(*layers).properties(width=W, height=H)


panels = [panel(r, c) for r in range(5) for c in range(3)]
chart = alt.concat(
    *panels, columns=3, spacing={"row": 9, "column": 7}, bounds="flush", padding=0
).configure_view(stroke="black", strokeWidth=1.3).configure(background="white")

chart.save("out.html", embed_options={"renderer": "svg", "actions": False})
